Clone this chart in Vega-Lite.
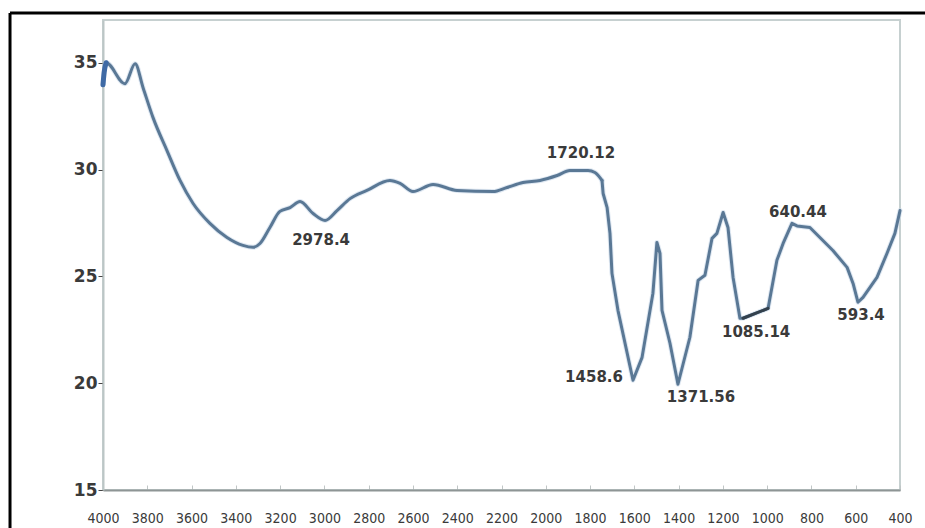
{
  "$schema": "https://vega.github.io/schema/vega-lite/v6.json",
  "autosize": {"type": "none"},
  "width": 797,
  "height": 470,
  "padding": {"left": 103, "top": 20, "right": 25, "bottom": 38},
  "background": "white",
  "config": {
    "view": {"stroke": "#c6d0d0", "strokeWidth": 2}
  },
  "datasets": {
    "spectrum": [
      {"wavenumber": 4000, "transmittance": 33.97},
      {"wavenumber": 3995, "transmittance": 34.53},
      {"wavenumber": 3986, "transmittance": 35.0},
      {"wavenumber": 3901, "transmittance": 34.02},
      {"wavenumber": 3855, "transmittance": 34.95},
      {"wavenumber": 3819, "transmittance": 33.83},
      {"wavenumber": 3774, "transmittance": 32.43},
      {"wavenumber": 3711, "transmittance": 30.89},
      {"wavenumber": 3652, "transmittance": 29.49},
      {"wavenumber": 3593, "transmittance": 28.41},
      {"wavenumber": 3517, "transmittance": 27.48},
      {"wavenumber": 3440, "transmittance": 26.82},
      {"wavenumber": 3368, "transmittance": 26.45},
      {"wavenumber": 3322, "transmittance": 26.36},
      {"wavenumber": 3291, "transmittance": 26.54},
      {"wavenumber": 3246, "transmittance": 27.29},
      {"wavenumber": 3201, "transmittance": 28.04},
      {"wavenumber": 3155, "transmittance": 28.22},
      {"wavenumber": 3110, "transmittance": 28.5},
      {"wavenumber": 3051, "transmittance": 27.94},
      {"wavenumber": 2997, "transmittance": 27.62},
      {"wavenumber": 2943, "transmittance": 28.08},
      {"wavenumber": 2884, "transmittance": 28.64},
      {"wavenumber": 2808, "transmittance": 29.02},
      {"wavenumber": 2704, "transmittance": 29.49},
      {"wavenumber": 2658, "transmittance": 29.35},
      {"wavenumber": 2600, "transmittance": 28.97},
      {"wavenumber": 2509, "transmittance": 29.3},
      {"wavenumber": 2401, "transmittance": 29.02},
      {"wavenumber": 2238, "transmittance": 28.97},
      {"wavenumber": 2175, "transmittance": 29.16},
      {"wavenumber": 2103, "transmittance": 29.39},
      {"wavenumber": 2026, "transmittance": 29.49},
      {"wavenumber": 1949, "transmittance": 29.72},
      {"wavenumber": 1891, "transmittance": 29.95},
      {"wavenumber": 1809, "transmittance": 29.95},
      {"wavenumber": 1778, "transmittance": 29.86},
      {"wavenumber": 1746, "transmittance": 29.49},
      {"wavenumber": 1741, "transmittance": 28.88},
      {"wavenumber": 1723, "transmittance": 28.22},
      {"wavenumber": 1710, "transmittance": 27.01},
      {"wavenumber": 1701, "transmittance": 25.14},
      {"wavenumber": 1674, "transmittance": 23.41},
      {"wavenumber": 1606, "transmittance": 20.14},
      {"wavenumber": 1565, "transmittance": 21.21},
      {"wavenumber": 1516, "transmittance": 24.21},
      {"wavenumber": 1498, "transmittance": 26.59},
      {"wavenumber": 1484, "transmittance": 26.07},
      {"wavenumber": 1475, "transmittance": 23.41},
      {"wavenumber": 1439, "transmittance": 21.87},
      {"wavenumber": 1403, "transmittance": 19.95},
      {"wavenumber": 1349, "transmittance": 22.15},
      {"wavenumber": 1312, "transmittance": 24.81},
      {"wavenumber": 1281, "transmittance": 25.05},
      {"wavenumber": 1249, "transmittance": 26.78},
      {"wavenumber": 1227, "transmittance": 27.01},
      {"wavenumber": 1199, "transmittance": 27.99},
      {"wavenumber": 1177, "transmittance": 27.29},
      {"wavenumber": 1154, "transmittance": 24.95},
      {"wavenumber": 1123, "transmittance": 23.04},
      {"wavenumber": 1109, "transmittance": 23.04},
      {"wavenumber": 996, "transmittance": 23.5},
      {"wavenumber": 956, "transmittance": 25.75},
      {"wavenumber": 928, "transmittance": 26.54},
      {"wavenumber": 888, "transmittance": 27.48},
      {"wavenumber": 865, "transmittance": 27.36},
      {"wavenumber": 807, "transmittance": 27.29},
      {"wavenumber": 703, "transmittance": 26.21},
      {"wavenumber": 639, "transmittance": 25.42},
      {"wavenumber": 612, "transmittance": 24.67},
      {"wavenumber": 590, "transmittance": 23.79},
      {"wavenumber": 567, "transmittance": 24.02},
      {"wavenumber": 504, "transmittance": 24.95},
      {"wavenumber": 459, "transmittance": 26.07},
      {"wavenumber": 423, "transmittance": 27.01},
      {"wavenumber": 400, "transmittance": 28.08}
    ],
    "peaks": [
      {"label": "1720.12", "wavenumber": 1841, "transmittance": 30.79},
      {"label": "2978.4", "wavenumber": 3015, "transmittance": 26.68},
      {"label": "640.44", "wavenumber": 861, "transmittance": 27.99},
      {"label": "1085.14", "wavenumber": 1050, "transmittance": 22.38},
      {"label": "593.4", "wavenumber": 576, "transmittance": 23.18},
      {"label": "1458.6", "wavenumber": 1782, "transmittance": 20.28},
      {"label": "1371.56", "wavenumber": 1299, "transmittance": 19.35}
    ]
  },
  "layer": [
    {
      "data": {"name": "spectrum"},
      "transform": [{"filter": "datum.wavenumber >= 1746"}],
      "mark": {"type": "line", "interpolate": "monotone", "stroke": "#c9d9ea", "strokeWidth": 5, "strokeJoin": "round", "strokeCap": "round", "opacity": 0.6},
      "encoding": {
        "x": {
          "field": "wavenumber",
          "type": "quantitative",
          "scale": {"domain": [400, 4000], "reverse": true, "nice": false, "zero": false},
          "axis": {
            "title": null,
            "values": [4000, 3800, 3600, 3400, 3200, 3000, 2800, 2600, 2400, 2200, 2000, 1800, 1600, 1400, 1200, 1000, 800, 600, 400],
            "format": "d",
            "labelOverlap": false,
            "labelFlush": false,
            "labelBound": false,
            "labelFont": "Liberation Sans Narrow, DejaVu Sans Condensed, sans-serif",
            "labelFontSize": 14,
            "labelColor": "#3a3a3a",
            "labelPadding": 26,
            "tickSize": -5,
            "tickColor": "#c0c6c6",
            "domainColor": "#8e9595",
            "domainWidth": 2,
            "grid": false
          }
        },
        "y": {
          "field": "transmittance",
          "type": "quantitative",
          "scale": {"domain": [15, 37], "nice": false, "zero": false},
          "axis": {
            "title": null,
            "values": [15, 20, 25, 30, 35],
            "labelFont": "DejaVu Sans",
            "labelFontSize": 17,
            "labelFontWeight": "bold",
            "labelColor": "#3a3a3a",
            "labelPadding": 1,
            "tickSize": 5,
            "tickColor": "#444444",
            "domainColor": "#bcc6c6",
            "domainWidth": 2,
            "grid": false
          }
        }
      }
    },
    {
      "data": {"name": "spectrum"},
      "transform": [{"filter": "datum.wavenumber <= 1746"}],
      "mark": {"type": "line", "stroke": "#c9d9ea", "strokeWidth": 5, "strokeJoin": "round", "strokeCap": "round", "opacity": 0.6},
      "encoding": {
        "x": {"field": "wavenumber", "type": "quantitative"},
        "y": {"field": "transmittance", "type": "quantitative"}
      }
    },
    {
      "data": {"name": "spectrum"},
      "transform": [{"filter": "datum.wavenumber >= 1746"}],
      "mark": {"type": "line", "interpolate": "monotone", "stroke": "#5a7895", "strokeWidth": 3, "strokeJoin": "round", "strokeCap": "round"},
      "encoding": {
        "x": {"field": "wavenumber", "type": "quantitative"},
        "y": {"field": "transmittance", "type": "quantitative"}
      }
    },
    {
      "data": {"name": "spectrum"},
      "transform": [{"filter": "datum.wavenumber <= 1746"}],
      "mark": {"type": "line", "stroke": "#5a7895", "strokeWidth": 3, "strokeJoin": "round", "strokeCap": "round"},
      "encoding": {
        "x": {"field": "wavenumber", "type": "quantitative"},
        "y": {"field": "transmittance", "type": "quantitative"}
      }
    },
    {
      "data": {"name": "spectrum"},
      "transform": [{"filter": "datum.wavenumber >= 3980"}],
      "mark": {"type": "line", "interpolate": "monotone", "stroke": "#3f6aa5", "strokeWidth": 5, "strokeCap": "round"},
      "encoding": {
        "x": {"field": "wavenumber", "type": "quantitative"},
        "y": {"field": "transmittance", "type": "quantitative"}
      }
    },
    {
      "data": {"name": "spectrum"},
      "transform": [{"filter": "datum.wavenumber >= 996 && datum.wavenumber <= 1109"}],
      "mark": {"type": "line", "stroke": "#33404c", "strokeWidth": 3, "strokeCap": "round"},
      "encoding": {
        "x": {"field": "wavenumber", "type": "quantitative"},
        "y": {"field": "transmittance", "type": "quantitative"}
      }
    },
    {
      "data": {"name": "peaks"},
      "mark": {"type": "text", "font": "DejaVu Sans", "fontSize": 15, "fontWeight": "bold", "fill": "#3a3a3a", "align": "center", "baseline": "middle"},
      "encoding": {
        "x": {"field": "wavenumber", "type": "quantitative"},
        "y": {"field": "transmittance", "type": "quantitative"},
        "text": {"field": "label"}
      }
    },
    {
      "data": {"values": [{}]},
      "mark": {"type": "rule", "stroke": "#000000", "strokeWidth": 3, "clip": false},
      "encoding": {
        "x": {"datum": 4420, "type": "quantitative"},
        "y": {"datum": 37.33, "type": "quantitative"},
        "y2": {"datum": 12}
      }
    },
    {
      "data": {"values": [{}]},
      "mark": {"type": "rule", "stroke": "#000000", "strokeWidth": 3, "clip": false},
      "encoding": {
        "x": {"datum": 4420, "type": "quantitative"},
        "x2": {"datum": 250},
        "y": {"datum": 37.33, "type": "quantitative"}
      }
    }
  ]
}
